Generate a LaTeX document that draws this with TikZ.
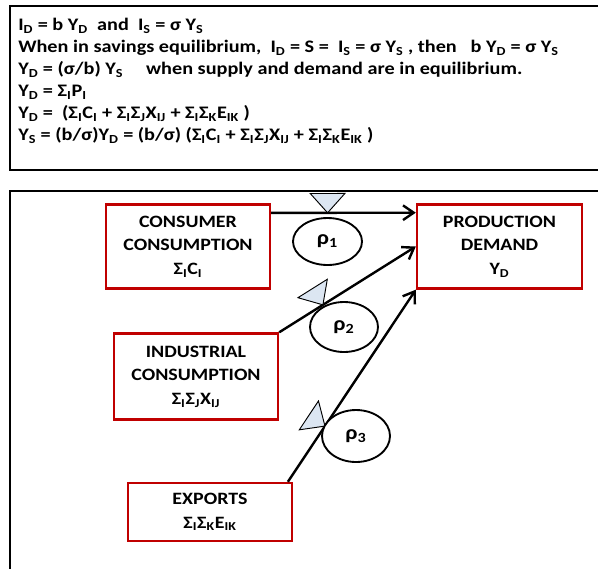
\documentclass[tikz,border=0pt]{standalone}
\usepackage{fontspec}
\setmainfont{Carlito}[FakeStretch=1.15]
\usetikzlibrary{arrows.meta,decorations.markings,shapes.geometric}

\definecolor{boxred}{HTML}{C00000}
\definecolor{valveblue}{HTML}{DCE6F2}
\newcommand{\lo}[1]{\textsubscript{#1}}

\tikzset{
  frame/.style={draw=black,line width=2.2pt},
  sector/.style={draw=boxred,line width=1.8pt,align=center,inner sep=0pt,
    font=\bfseries\fontsize{13}{17.8}\selectfont},
  rate/.style={draw=black,ellipse,line width=1.4pt,fill=white,inner sep=0pt,
    font=\bfseries\fontsize{15}{15}\selectfont},
  flow/.style={line width=1.8pt,-{Straight Barb[length=8pt,width=11pt,line width=1.8pt]}},
  valve/.style={postaction={decorate,decoration={markings,mark=at position #1 with
    {\filldraw[-,fill=valveblue,draw=black,line width=0.7pt] (0,0) -- (-13pt,14.5pt) -- (13pt,14.5pt) -- cycle;}}}}
}

\begin{document}
\begin{tikzpicture}[x=0.75pt,y=-0.75pt]
\useasboundingbox (0,0) rectangle (598,568);
\clip (0,0) rectangle (598,568);

%% equations
\draw[frame] (10,6) rectangle (620,170);
\node[anchor=north west,align=left,inner sep=0pt,font=\bfseries\fontsize{13.2}{16.5}\selectfont] (eqs) at (18,18)
  {I\lo{D} = b Y\lo{D}\ \ and\ \ I\lo{S} = σ Y\lo{S}\\
   When in savings equilibrium,\ \ I\lo{D} = S =\ \ I\lo{S} = σ Y\lo{S} , then\ \ \ b Y\lo{D} = σ Y\lo{S}\\
   Y\lo{D} = (σ/b) Y\lo{S}\ \ \ \ \ when supply and demand are in equilibrium.\\
   Y\lo{D} = Σ\lo{I}P\lo{I}\\
   Y\lo{D} =\ \ (Σ\lo{I}C\lo{I} + Σ\lo{I}Σ\lo{J}X\lo{IJ} + Σ\lo{I}Σ\lo{K}E\lo{IK} )\\
   Y\lo{S} = (b/σ)Y\lo{D} = (b/σ) (Σ\lo{I}C\lo{I} + Σ\lo{I}Σ\lo{J}X\lo{IJ} + Σ\lo{I}Σ\lo{K}E\lo{IK} )};

%% flow diagram
\draw[frame] (10,191) rectangle (620,590);

\node[sector,minimum width=123pt,minimum height=63pt] (cons) at (188,246.5) {CONSUMER\\CONSUMPTION\\Σ\lo{I}C\lo{I}};
\node[sector,minimum width=123.75pt,minimum height=63pt] (prod) at (499.5,246.5) {PRODUCTION\\DEMAND\\Y\lo{D}};
\node[sector,minimum width=123pt,minimum height=64.5pt] (ind) at (196,376.5) {INDUSTRIAL\\CONSUMPTION\\Σ\lo{I}Σ\lo{J}X\lo{IJ}};
\node[sector,minimum width=123pt,minimum height=43.5pt] (exp) at (210,512) {EXPORTS\\Σ\lo{I}Σ\lo{K}E\lo{IK}};

\draw[flow,valve=0.39] (cons.22) -- (prod.158);
\draw[flow,valve=0.32] (ind.north east) -- (prod.west);
\draw[flow,valve=0.29] ([xshift=-4pt]exp.north east) -- (prod.south west);

\node[rate,minimum width=51.75pt,minimum height=35.25pt] (r1) at (327.5,241.5) {ρ\lo{1}};
\node[rate,minimum width=51pt,minimum height=37.5pt] (r2) at (344,327) {ρ\lo{2}};
\node[rate,minimum width=51pt,minimum height=39pt] (r3) at (356,436) {ρ\lo{3}};

\end{tikzpicture}
\end{document}
